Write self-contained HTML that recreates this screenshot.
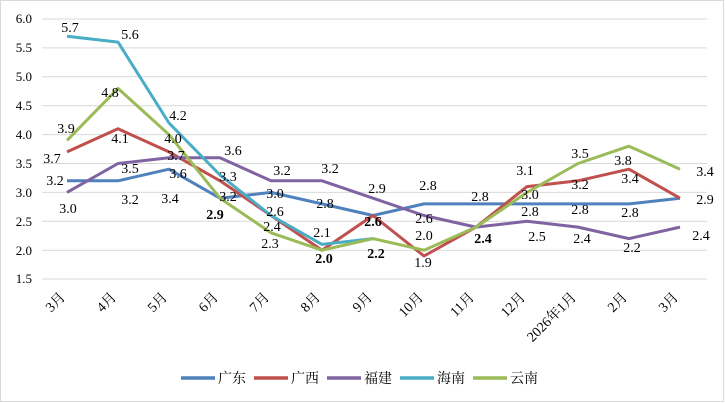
<!DOCTYPE html>
<html><head><meta charset="utf-8"><style>
body{margin:0;background:#fff}
svg{display:block;font-family:"Liberation Serif","Noto Serif CJK SC",serif}
</style></head><body>
<svg width="725" height="403" viewBox="0 0 725 403" xmlns="http://www.w3.org/2000/svg">
<rect x="0.5" y="0.5" width="723" height="401" fill="#fff" stroke="#d9d9d9"/>
<g stroke="#d9d9d9" stroke-width="1">
<line x1="42" x2="707" y1="19" y2="19"/><line x1="42" x2="707" y1="47.9" y2="47.9"/>
<line x1="42" x2="707" y1="76.8" y2="76.8"/><line x1="42" x2="707" y1="105.7" y2="105.7"/>
<line x1="42" x2="707" y1="134.6" y2="134.6"/><line x1="42" x2="707" y1="163.5" y2="163.5"/>
<line x1="42" x2="707" y1="192.4" y2="192.4"/><line x1="42" x2="707" y1="221.3" y2="221.3"/>
<line x1="42" x2="707" y1="250.2" y2="250.2"/><line x1="42" x2="707" y1="279" y2="279"/>
</g>
<g font-size="13" fill="#000" text-anchor="end">
<text x="32" y="23">6.0</text><text x="32" y="52">5.5</text><text x="32" y="81">5.0</text>
<text x="32" y="110">4.5</text><text x="32" y="139">4.0</text><text x="32" y="168">3.5</text>
<text x="32" y="197">3.0</text><text x="32" y="226">2.5</text><text x="32" y="255">2.0</text>
<text x="32" y="283">1.5</text>
</g>
<g font-size="14" text-anchor="end">
<text transform="translate(66,298) rotate(-45)">3月</text>
<text transform="translate(117,298) rotate(-45)">4月</text>
<text transform="translate(168,298) rotate(-45)">5月</text>
<text transform="translate(219,298) rotate(-45)">6月</text>
<text transform="translate(270,298) rotate(-45)">7月</text>
<text transform="translate(321,298) rotate(-45)">8月</text>
<text transform="translate(373,298) rotate(-45)">9月</text>
<text transform="translate(424,298) rotate(-45)">10月</text>
<text transform="translate(475,298) rotate(-45)">11月</text>
<text transform="translate(526,298) rotate(-45)">12月</text>
<text transform="translate(577,298) rotate(-45)">2026年1月</text>
<text transform="translate(628,298) rotate(-45)">2月</text>
<text transform="translate(679,298) rotate(-45)">3月</text>
</g>
<g fill="none" stroke-width="3" stroke-linejoin="round">
<polyline stroke="#4f81bd" points="67,180.8 118,180.8 169,169.2 220,198.2 271,192.4 322,203.9 373,215.5 424,203.9 476,203.9 527,203.9 578,203.9 629,203.9 680,198.2"/>
<polyline stroke="#c0504d" points="67,151.9 118,128.8 169,151.9 220,180.8 271,215.5 322,250.2 373,215.5 424,256 476,227.1 527,186.6 578,180.8 629,169.2 680,198.2"/>
<polyline stroke="#8064a2" points="67,192.4 118,163.5 169,157.7 220,157.7 271,180.8 322,180.8 373,198.2 424,215.5 476,227.1 527,221.3 578,227.1 629,238.6 680,227.1"/>
<polyline stroke="#4bacc6" points="67,36.3 118,42.1 169,123 220,175 271,215.5 322,244.4 373,238.6"/>
<polyline stroke="#9bbb59" points="67,140.4 118,88.4 169,134.6 220,198.2 271,232.8 322,250.2 373,238.6 424,250.2 476,227.1 527,192.4 578,163.5 629,146.2 680,169.2"/>
</g>
<g font-size="14" text-anchor="middle">
<text x="70" y="32">5.7</text><text x="130" y="39">5.6</text><text x="110" y="97">4.8</text>
<text x="66" y="133">3.9</text><text x="120" y="143">4.1</text><text x="52" y="163">3.7</text>
<text x="178" y="120">4.2</text><text x="173" y="143">4.0</text><text x="176" y="160">3.7</text>
<text x="233" y="155">3.6</text><text x="130" y="173">3.5</text><text x="178" y="178">3.6</text>
<text x="228" y="181">3.3</text><text x="55" y="185">3.2</text><text x="282" y="175">3.2</text>
<text x="68" y="213">3.0</text><text x="130" y="204">3.2</text><text x="170" y="203">3.4</text>
<text x="228" y="201">3.2</text><text x="275" y="198">3.0</text><text x="215" y="219" font-weight="bold">2.9</text>
<text x="275" y="216">2.6</text><text x="272" y="231">2.4</text><text x="270" y="248">2.3</text>
<text x="330" y="173">3.2</text><text x="325" y="208">2.8</text><text x="322" y="237">2.1</text>
<text x="324" y="263" font-weight="bold">2.0</text><text x="377" y="193">2.9</text>
<text x="373" y="226" font-weight="bold">2.6</text><text x="376" y="258" font-weight="bold">2.2</text>
<text x="428" y="190">2.8</text><text x="424" y="223">2.6</text><text x="424" y="240">2.0</text>
<text x="423" y="267">1.9</text><text x="480" y="201">2.8</text><text x="483" y="243" font-weight="bold">2.4</text>
<text x="525" y="175">3.1</text><text x="530" y="199">3.0</text><text x="530" y="216">2.8</text>
<text x="537" y="241">2.5</text><text x="580" y="158">3.5</text><text x="580" y="189">3.2</text>
<text x="580" y="214">2.8</text><text x="582" y="243">2.4</text><text x="630" y="183">3.4</text>
<text x="630" y="217">2.8</text><text x="632" y="252">2.2</text><text x="623" y="165">3.8</text>
<text x="705" y="176">3.4</text><text x="705" y="204">2.9</text><text x="701" y="240">2.4</text>
</g>
<g stroke-width="3.5">
<line x1="181" x2="215" y1="378" y2="378" stroke="#4f81bd"/>
<line x1="254" x2="288" y1="378" y2="378" stroke="#c0504d"/>
<line x1="327" x2="361" y1="378" y2="378" stroke="#8064a2"/>
<line x1="400" x2="434" y1="378" y2="378" stroke="#4bacc6"/>
<line x1="473" x2="507" y1="378" y2="378" stroke="#9bbb59"/>
</g>
<g font-size="14">
<text x="218" y="383">广东</text><text x="291" y="383">广西</text><text x="364" y="383">福建</text>
<text x="437" y="383">海南</text><text x="510" y="383">云南</text>
</g>
</svg>
</body></html>
